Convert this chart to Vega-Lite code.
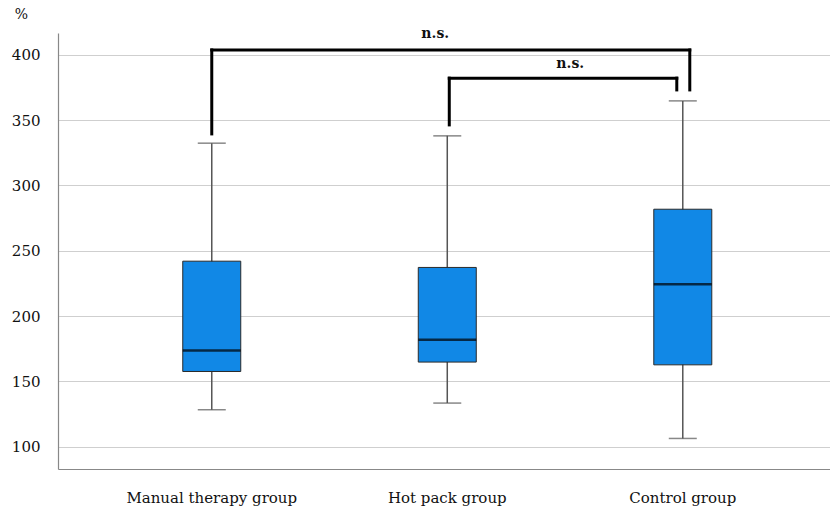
{
  "$schema": "https://vega.github.io/schema/vega-lite/v6.json",
  "width": 772,
  "height": 436,
  "autosize": {"type": "none"},
  "padding": {"left": 58, "top": 33, "right": 0, "bottom": 43},
  "background": "white",
  "config": {
    "view": {"stroke": null},
    "font": "DejaVu Serif"
  },
  "datasets": {
    "boxes": [
      {"group": "Manual therapy group", "lower": 128.2, "q1": 157.5, "median": 173.6, "q3": 242.0, "upper": 332.4},
      {"group": "Hot pack group", "lower": 133.3, "q1": 164.7, "median": 181.8, "q3": 237.2, "upper": 338.0},
      {"group": "Control group", "lower": 106.2, "q1": 162.6, "median": 224.4, "q3": 281.8, "upper": 364.8}
    ],
    "brackets": [
      {"id": "outer", "from": "Manual therapy group", "to": "Control group", "top": 403.8, "leftEnd": 339.5, "rightEnd": 373.2},
      {"id": "inner", "from": "Hot pack group", "to": "Control group", "top": 382.2, "leftEnd": 346.4, "rightEnd": 373.2}
    ],
    "labels": [
      {"id": "outer", "anchor": "Hot pack group", "text": "n.s.", "y": 413},
      {"id": "inner", "anchor": "Hot pack group", "text": "n.s.", "y": 390}
    ]
  },
  "data": {"name": "boxes"},
  "encoding": {
    "x": {
      "field": "group",
      "type": "nominal",
      "scale": {"domain": ["Manual therapy group", "Hot pack group", "Control group"], "paddingInner": 0, "paddingOuter": 0.139, "align": 0.55},
      "axis": {
        "title": null,
        "labelAngle": 0,
        "ticks": false,
        "labelPadding": 21,
        "labelFont": "DejaVu Serif",
        "labelFontSize": 15,
        "labelColor": "#111",
        "domainColor": "#888",
        "domainWidth": 1.2,
        "grid": false
      }
    }
  },
  "layer": [
    {
      "mark": {"type": "rule", "color": "#555", "strokeWidth": 1.5},
      "encoding": {
        "y": {
          "field": "lower",
          "type": "quantitative",
          "scale": {"domain": [82.8, 416.8], "nice": false, "zero": false},
          "axis": {
            "values": [100, 150, 200, 250, 300, 350, 400],
            "title": "%",
            "titleAngle": 0,
            "titleX": -37,
            "titleY": -19,
            "titleAlign": "center",
            "titleBaseline": "middle",
            "titleFont": "DejaVu Serif",
            "titleFontSize": 14,
            "titleFontWeight": "normal",
            "titleColor": "#111",
            "ticks": false,
            "labelPadding": 18,
            "labelFont": "DejaVu Serif",
            "labelFontSize": 15,
            "labelColor": "#111",
            "domainColor": "#888",
            "domainWidth": 1.2,
            "grid": true,
            "gridColor": "#cfcfcf",
            "gridWidth": 1.2
          }
        },
        "y2": {"field": "upper"}
      }
    },
    {
      "mark": {"type": "tick", "color": "#555", "size": 28, "thickness": 1.5, "orient": "horizontal"},
      "encoding": {"y": {"field": "lower", "type": "quantitative"}}
    },
    {
      "mark": {"type": "tick", "color": "#555", "size": 28, "thickness": 1.5, "orient": "horizontal"},
      "encoding": {"y": {"field": "upper", "type": "quantitative"}}
    },
    {
      "mark": {"type": "bar", "size": 58, "fill": "#1188e6", "stroke": "#2a2a2a", "strokeWidth": 1},
      "encoding": {
        "y": {"field": "q1", "type": "quantitative"},
        "y2": {"field": "q3"}
      }
    },
    {
      "mark": {"type": "tick", "color": "#000", "size": 58, "thickness": 2.5, "orient": "horizontal"},
      "encoding": {"y": {"field": "median", "type": "quantitative"}}
    },
    {
      "data": {"name": "brackets"},
      "transform": [{"filter": "datum.id == 'outer'"}],
      "mark": {"type": "rule", "color": "#000", "strokeWidth": 3, "strokeCap": "square", "xOffset": 0, "x2Offset": 7},
      "encoding": {
        "x": {"field": "from", "type": "nominal", "bandPosition": 0.5},
        "x2": {"field": "to", "bandPosition": 0.5},
        "y": {"field": "top", "type": "quantitative"}
      }
    },
    {
      "data": {"name": "brackets"},
      "transform": [{"filter": "datum.id == 'outer'"}],
      "mark": {"type": "rule", "color": "#000", "strokeWidth": 3, "strokeCap": "square", "xOffset": 0},
      "encoding": {
        "x": {"field": "from", "type": "nominal"},
        "y": {"field": "leftEnd", "type": "quantitative"},
        "y2": {"field": "top"}
      }
    },
    {
      "data": {"name": "brackets"},
      "transform": [{"filter": "datum.id == 'outer'"}],
      "mark": {"type": "rule", "color": "#000", "strokeWidth": 3, "strokeCap": "square", "xOffset": 7},
      "encoding": {
        "x": {"field": "to", "type": "nominal"},
        "y": {"field": "rightEnd", "type": "quantitative"},
        "y2": {"field": "top"}
      }
    },
    {
      "data": {"name": "brackets"},
      "transform": [{"filter": "datum.id == 'inner'"}],
      "mark": {"type": "rule", "color": "#000", "strokeWidth": 3, "strokeCap": "square", "xOffset": 2, "x2Offset": -6},
      "encoding": {
        "x": {"field": "from", "type": "nominal", "bandPosition": 0.5},
        "x2": {"field": "to", "bandPosition": 0.5},
        "y": {"field": "top", "type": "quantitative"}
      }
    },
    {
      "data": {"name": "brackets"},
      "transform": [{"filter": "datum.id == 'inner'"}],
      "mark": {"type": "rule", "color": "#000", "strokeWidth": 3, "strokeCap": "square", "xOffset": 2},
      "encoding": {
        "x": {"field": "from", "type": "nominal"},
        "y": {"field": "leftEnd", "type": "quantitative"},
        "y2": {"field": "top"}
      }
    },
    {
      "data": {"name": "brackets"},
      "transform": [{"filter": "datum.id == 'inner'"}],
      "mark": {"type": "rule", "color": "#000", "strokeWidth": 3, "strokeCap": "square", "xOffset": -6},
      "encoding": {
        "x": {"field": "to", "type": "nominal"},
        "y": {"field": "rightEnd", "type": "quantitative"},
        "y2": {"field": "top"}
      }
    },
    {
      "data": {"name": "labels"},
      "transform": [{"filter": "datum.id == 'outer'"}],
      "mark": {"type": "text", "font": "DejaVu Serif", "fontSize": 14, "fontWeight": "bold", "color": "#111", "baseline": "alphabetic", "align": "center", "dx": -12},
      "encoding": {
        "x": {"field": "anchor", "type": "nominal"},
        "y": {"field": "y", "type": "quantitative"},
        "text": {"field": "text"}
      }
    },
    {
      "data": {"name": "labels"},
      "transform": [{"filter": "datum.id == 'inner'"}],
      "mark": {"type": "text", "font": "DejaVu Serif", "fontSize": 14, "fontWeight": "bold", "color": "#111", "baseline": "alphabetic", "align": "center", "dx": 123},
      "encoding": {
        "x": {"field": "anchor", "type": "nominal"},
        "y": {"field": "y", "type": "quantitative"},
        "text": {"field": "text"}
      }
    }
  ]
}
